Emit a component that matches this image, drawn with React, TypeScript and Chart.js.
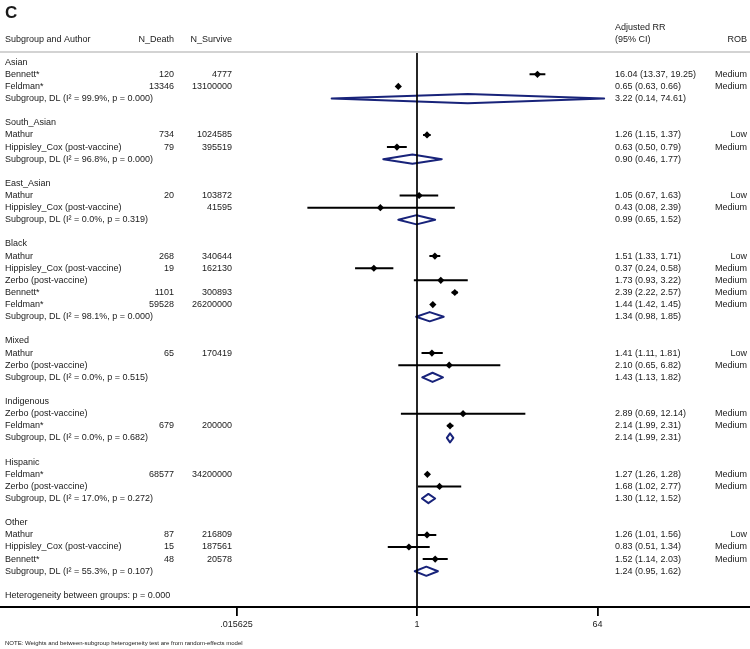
import React, { useEffect, useRef } from 'react';
import { Chart, registerables } from 'chart.js';

Chart.register(...registerables);

// ---------- data ----------
const rowLabels: string[] = [
  'Asian',
  'Bennett*',
  'Feldman*',
  'Subgroup, DL (I² = 99.9%, p = 0.000)',
  '',
  'South_Asian',
  'Mathur',
  'Hippisley_Cox (post-vaccine)',
  'Subgroup, DL (I² = 96.8%, p = 0.000)',
  '',
  'East_Asian',
  'Mathur',
  'Hippisley_Cox (post-vaccine)',
  'Subgroup, DL (I² = 0.0%, p = 0.319)',
  '',
  'Black',
  'Mathur',
  'Hippisley_Cox (post-vaccine)',
  'Zerbo (post-vaccine)',
  'Bennett*',
  'Feldman*',
  'Subgroup, DL (I² = 98.1%, p = 0.000)',
  '',
  'Mixed',
  'Mathur',
  'Zerbo (post-vaccine)',
  'Subgroup, DL (I² = 0.0%, p = 0.515)',
  '',
  'Indigenous',
  'Zerbo (post-vaccine)',
  'Feldman*',
  'Subgroup, DL (I² = 0.0%, p = 0.682)',
  '',
  'Hispanic',
  'Feldman*',
  'Zerbo (post-vaccine)',
  'Subgroup, DL (I² = 17.0%, p = 0.272)',
  '',
  'Other',
  'Mathur',
  'Hippisley_Cox (post-vaccine)',
  'Bennett*',
  'Subgroup, DL (I² = 55.3%, p = 0.107)',
  '',
  'Heterogeneity between groups: p = 0.000',
];

// g = group header, s = study, p = pooled subgroup, b = blank, h = heterogeneity note
const rowType: string[] = [
  'g', 's', 's', 'p', 'b',
  'g', 's', 's', 'p', 'b',
  'g', 's', 's', 'p', 'b',
  'g', 's', 's', 's', 's', 's', 'p', 'b',
  'g', 's', 's', 'p', 'b',
  'g', 's', 's', 'p', 'b',
  'g', 's', 's', 'p', 'b',
  'g', 's', 's', 's', 'p', 'b',
  'h',
];

const nDeath: (number | null)[] = [
  null, 120, 13346, null, null,
  null, 734, 79, null, null,
  null, 20, null, null, null,
  null, 268, 19, null, 1101, 59528, null, null,
  null, 65, null, null, null,
  null, null, 679, null, null,
  null, 68577, null, null, null,
  null, 87, 15, 48, null, null,
  null,
];

const nSurvive: (number | null)[] = [
  null, 4777, 13100000, null, null,
  null, 1024585, 395519, null, null,
  null, 103872, 41595, null, null,
  null, 340644, 162130, null, 300893, 26200000, null, null,
  null, 170419, null, null, null,
  null, null, 200000, null, null,
  null, 34200000, null, null, null,
  null, 216809, 187561, 20578, null, null,
  null,
];

const estimate: (number | null)[] = [
  null, 16.04, 0.65, 3.22, null,
  null, 1.26, 0.63, 0.90, null,
  null, 1.05, 0.43, 0.99, null,
  null, 1.51, 0.37, 1.73, 2.39, 1.44, 1.34, null,
  null, 1.41, 2.10, 1.43, null,
  null, 2.89, 2.14, 2.14, null,
  null, 1.27, 1.68, 1.30, null,
  null, 1.26, 0.83, 1.52, 1.24, null,
  null,
];

const ciLow: (number | null)[] = [
  null, 13.37, 0.63, 0.14, null,
  null, 1.15, 0.50, 0.46, null,
  null, 0.67, 0.08, 0.65, null,
  null, 1.33, 0.24, 0.93, 2.22, 1.42, 0.98, null,
  null, 1.11, 0.65, 1.13, null,
  null, 0.69, 1.99, 1.99, null,
  null, 1.26, 1.02, 1.12, null,
  null, 1.01, 0.51, 1.14, 0.95, null,
  null,
];

const ciHigh: (number | null)[] = [
  null, 19.25, 0.66, 74.61, null,
  null, 1.37, 0.79, 1.77, null,
  null, 1.63, 2.39, 1.52, null,
  null, 1.71, 0.58, 3.22, 2.57, 1.45, 1.85, null,
  null, 1.81, 6.82, 1.82, null,
  null, 12.14, 2.31, 2.31, null,
  null, 1.28, 2.77, 1.52, null,
  null, 1.56, 1.34, 2.03, 1.62, null,
  null,
];

const rob: string[] = [
  '', 'Medium', 'Medium', '', '',
  '', 'Low', 'Medium', '', '',
  '', 'Low', 'Medium', '', '',
  '', 'Low', 'Medium', 'Medium', 'Medium', 'Medium', '', '',
  '', 'Low', 'Medium', '', '',
  '', 'Medium', 'Medium', '', '',
  '', 'Medium', 'Medium', '', '',
  '', 'Low', 'Medium', 'Medium', '', '',
  '',
];

const tickValues: number[] = [0.015625, 1, 64];
const tickLabels: string[] = ['.015625', '1', '64'];

const panelLabel = 'C';
const headerLeft = ['Subgroup and Author', 'N_Death', 'N_Survive'];
const headerRight = ['Adjusted RR', '(95% CI)', 'ROB'];
const footnote = 'NOTE: Weights and between-subgroup heterogeneity test are from random-effects model';

// ---------- styling ----------
const FAMILY = '"Liberation Sans", Arial, Helvetica, sans-serif';
const TEXT = '#1a1a1a';
const NAVY = '#18237a';
const DIAMOND_H = 0.38;

const fmt = (v: number) => v.toFixed(2);

const textPlugin = {
  id: 'forestText',
  beforeDatasetsDraw(chart: any) {
    const { ctx } = chart;
    const ys = chart.scales.y;
    ctx.save();
    ctx.strokeStyle = '#c4c4c4';
    ctx.lineWidth = 1.5;
    const yy = ys.getPixelForValue(-0.85);
    ctx.beginPath();
    ctx.moveTo(0, yy);
    ctx.lineTo(chart.width, yy);
    ctx.stroke();
    ctx.restore();
  },
  afterDraw(chart: any) {
    const { ctx } = chart;
    const ys = chart.scales.y;
    ctx.save();
    ctx.fillStyle = TEXT;
    ctx.textBaseline = 'middle';

    // panel label
    ctx.font = `bold 17px ${FAMILY}`;
    ctx.textAlign = 'left';
    ctx.fillText(panelLabel, 5, ys.getPixelForValue(-4.02));

    ctx.font = `9px ${FAMILY}`;
    // headers
    const h1 = ys.getPixelForValue(-1.9);
    const h0 = ys.getPixelForValue(-2.9);
    ctx.textAlign = 'left';
    ctx.fillText(headerLeft[0], 5, h1);
    ctx.textAlign = 'right';
    ctx.fillText(headerLeft[1], 174, h1);
    ctx.fillText(headerLeft[2], 232, h1);
    ctx.textAlign = 'left';
    ctx.fillText(headerRight[0], 615, h0);
    ctx.fillText(headerRight[1], 615, h1);
    ctx.textAlign = 'right';
    ctx.fillText(headerRight[2], 747, h1);

    // rows
    rowLabels.forEach((label, i) => {
      const y = ys.getPixelForValue(i);
      ctx.textAlign = 'left';
      if (label) ctx.fillText(label, 5, y);
      ctx.textAlign = 'right';
      if (nDeath[i] != null) ctx.fillText(String(nDeath[i]), 174, y);
      if (nSurvive[i] != null) ctx.fillText(String(nSurvive[i]), 232, y);
      if (rob[i]) ctx.fillText(rob[i], 747, y);
      const e = estimate[i];
      const lo = ciLow[i];
      const hi = ciHigh[i];
      if (e != null && lo != null && hi != null) {
        ctx.textAlign = 'left';
        ctx.fillText(`${fmt(e)} (${fmt(lo)}, ${fmt(hi)})`, 615, y);
      }
    });

    // footnote
    ctx.font = `6px ${FAMILY}`;
    ctx.textAlign = 'left';
    ctx.fillText(footnote, 5, chart.height - 6);
    ctx.restore();
  },
};

export default function App() {
  const canvasRef = useRef<HTMLCanvasElement | null>(null);

  useEffect(() => {
    document.body.style.margin = '0';
    const canvas = canvasRef.current;
    if (!canvas) return;

    const studyPoints: { x: number; y: number }[] = [];
    const ciSegments: { x: number; y: number }[] = [];
    const diamonds: { x: number; y: number }[] = [];

    rowType.forEach((t, i) => {
      const e = estimate[i];
      const lo = ciLow[i];
      const hi = ciHigh[i];
      if (e == null || lo == null || hi == null) return;
      if (t === 's') {
        studyPoints.push({ x: e, y: i });
        ciSegments.push({ x: lo, y: i }, { x: hi, y: i }, { x: NaN, y: NaN });
      } else if (t === 'p') {
        diamonds.push(
          { x: lo, y: i },
          { x: e, y: i - DIAMOND_H },
          { x: hi, y: i },
          { x: e, y: i + DIAMOND_H },
          { x: lo, y: i },
          { x: NaN, y: NaN },
        );
      }
    });

    const nRows = rowLabels.length;
    const chart = new Chart(canvas, {
      type: 'scatter',
      data: {
        datasets: [
          {
            label: 'null line',
            data: [
              { x: 1, y: -0.75 },
              { x: 1, y: nRows + 1 },
            ],
            showLine: true,
            borderColor: '#000',
            borderWidth: 1.7,
            pointRadius: 0,
          },
          {
            label: 'CI',
            data: ciSegments,
            showLine: true,
            spanGaps: false,
            borderColor: '#000',
            borderWidth: 2,
            pointRadius: 0,
          },
          {
            label: 'pooled',
            data: diamonds,
            showLine: true,
            spanGaps: false,
            borderColor: NAVY,
            borderWidth: 2,
            borderJoinStyle: 'round',
            borderCapStyle: 'round',
            pointRadius: 0,
          },
          {
            label: 'estimate',
            data: studyPoints,
            pointStyle: 'rectRot',
            pointRadius: 3.6,
            backgroundColor: '#000',
            borderColor: '#000',
            borderWidth: 0,
          },
        ] as any,
      },
      options: {
        animation: false,
        responsive: false,
        devicePixelRatio: 1,
        events: [],
        layout: { padding: 0, autoPadding: false },
        plugins: {
          legend: { display: false },
          tooltip: { enabled: false },
        },
        scales: {
          x: {
            type: 'logarithmic',
            bounds: 'data',
            min: Math.pow(2, -417 / 30.083),
            max: Math.pow(2, (750 - 417) / 30.083),
            afterBuildTicks: (scale: any) => {
              scale.ticks = tickValues.map((v) => ({ value: v }));
            },
            afterFit: (scale: any) => {
              scale.height = 42;
              scale.paddingLeft = 0;
              scale.paddingRight = 0;
            },
            border: { display: true, color: '#000', width: 2 },
            grid: {
              display: true,
              drawOnChartArea: false,
              drawTicks: true,
              tickLength: 9,
              color: '#000',
              lineWidth: 1.8,
            },
            ticks: {
              autoSkip: false,
              maxRotation: 0,
              padding: 3,
              color: TEXT,
              font: { family: FAMILY, size: 9 },
              callback: (_v: any, idx: number) => tickLabels[idx],
            },
          },
          y: {
            type: 'linear',
            display: false,
            reverse: true,
            min: -62.2 / 12.12,
            max: -62.2 / 12.12 + 607 / 12.12,
          },
        },
      } as any,
      plugins: [textPlugin],
    });

    return () => chart.destroy();
  }, []);

  return (
    <canvas
      ref={canvasRef}
      width={750}
      height={649}
      style={{ display: 'block', width: 750, height: 649 }}
    />
  );
}
